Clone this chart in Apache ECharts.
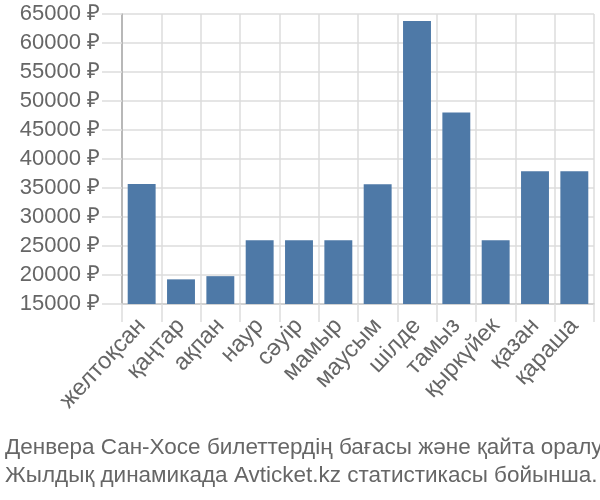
<!DOCTYPE html>
<html><head><meta charset="utf-8">
<script src="https://cdn.jsdelivr.net/npm/echarts@6/dist/echarts.min.js"></script>
<style>html,body{margin:0;padding:0;background:#fff}#c{width:600px;height:500px}</style>
</head><body><div id="c"></div>
<script>
const categories = ['желтоқсан','қаңтар','ақпан','наур','сәуір','мамыр','маусым','шілде','тамыз','қыркүйек','қазан','қараша'];
const prices = [35700, 19250, 19800, 26000, 26000, 26000, 35650, 63800, 48000, 26000, 37900, 37900];
const yTicks = {min: 15000, max: 65000, interval: 5000};
const titleLines = ['Денвера Сан-Хосе билеттердің бағасы және қайта оралу', 'Жылдық динамикада Avticket.kz статистикасы бойынша.'];

const chart = echarts.init(document.getElementById('c'));
chart.setOption({
  animation: false,
  textStyle: {fontFamily: 'Liberation Sans'},
  title: {
    text: titleLines.join('\n'),
    left: 0, top: 429,
    textStyle: {fontSize: 22.5, color: '#666', fontWeight: 'normal', lineHeight: 28, fontFamily: 'Liberation Sans'}
  },
  grid: {left: 122, right: 6, top: 14, bottom: 196, containLabel: false},
  xAxis: {
    type: 'category', data: categories,
    axisLine: {lineStyle: {color: '#ccc', width: 1.5}},
    axisTick: {show: true, length: 18, lineStyle: {color: '#ddd', width: 1.5}},
    splitLine: {show: true, lineStyle: {color: '#ddd', width: 1.5}},
    axisLabel: {rotate: 47, fontSize: 23.5, color: '#666', margin: 18, interval: 0}
  },
  yAxis: {
    type: 'value', min: yTicks.min, max: yTicks.max, interval: yTicks.interval,
    axisLine: {show: true, lineStyle: {color: '#aaa', width: 1.5}},
    axisTick: {show: true, length: 20, lineStyle: {color: '#ddd', width: 1.5}},
    splitLine: {show: true, lineStyle: {color: '#ddd', width: 1.5}},
    axisLabel: {fontSize: 22, color: '#666', margin: 22, formatter: v => v + ' ₽'}
  },
  series: [{
    type: 'bar', data: prices, barCategoryGap: '29%',
    itemStyle: {color: '#4e79a7'}
  }]
});
</script></body></html>
